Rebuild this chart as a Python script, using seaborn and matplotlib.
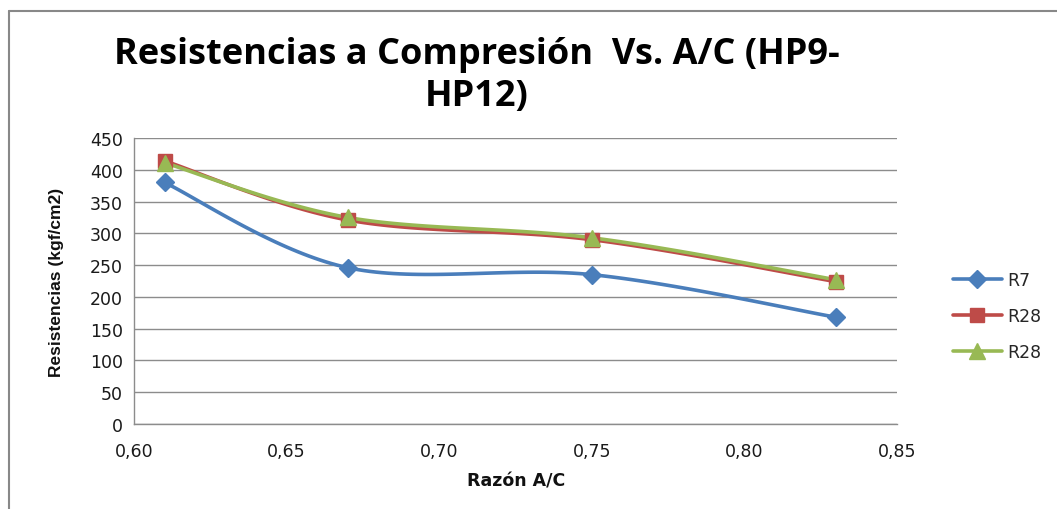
import numpy as np
import pandas as pd
import matplotlib
matplotlib.use("Agg")
import matplotlib.pyplot as plt
from matplotlib.lines import Line2D
import seaborn as sns

# ---- data ----
razon_ac = [0.61, 0.67, 0.75, 0.83]
r7 = [380, 246, 235, 168]
r28_a = [414, 321, 290, 224]
r28_b = [411, 325, 293, 227]
series_names = ["R7", "R28", "R28"]
title_text = "Resistencias a Compresión  Vs. A/C (HP9-\nHP12)"
x_ticks = [0.60, 0.65, 0.70, 0.75, 0.80, 0.85]
y_ticks = [0, 50, 100, 150, 200, 250, 300, 350, 400, 450]

colors = ["#4A7EBB", "#BE4B48", "#98B954"]
markers = ["D", "s", "^"]
msizes = [9, 10, 11]

sns.set_theme(style="white")
plt.rcParams["font.family"] = ["DejaVu Sans"]

fig = plt.figure(figsize=(10.57, 5.10), dpi=100)
ax = fig.add_axes([134 / 1057, 1 - 425 / 510, (897 - 134) / 1057, (425 - 139) / 510])
ax.set_xlim(0.60, 0.85)
ax.set_ylim(0, 450)

# pixel scaling for smooth (Excel-like) curve
sx = 763 / 0.25
sy = 286 / 450


def smooth(xs, ys, n=40):
    P = np.column_stack([np.array(xs) * sx, np.array(ys) * sy])
    out = []
    m = len(P)
    for i in range(m - 1):
        p0 = P[i - 1] if i > 0 else P[i]
        p1 = P[i]
        p2 = P[i + 1]
        p3 = P[i + 2] if i + 2 < m else P[i + 1]
        c1 = p1 + (p2 - p0) / 6
        c2 = p2 - (p3 - p1) / 6
        t = np.linspace(0, 1, n)[:, None]
        seg = ((1 - t) ** 3) * p1 + 3 * ((1 - t) ** 2) * t * c1 + 3 * (1 - t) * t ** 2 * c2 + t ** 3 * p2
        out.append(seg if i == 0 else seg[1:])
    seg = np.vstack(out)
    return seg[:, 0] / sx, seg[:, 1] / sy


handles = []
for vals, name, c, mk, ms in zip([r7, r28_a, r28_b], series_names, colors, markers, msizes):
    xs_s, ys_s = smooth(razon_ac, vals)
    sns.lineplot(x=xs_s, y=ys_s, ax=ax, color=c, lw=2.6, sort=False, estimator=None)
    ax.plot(razon_ac, vals, linestyle="none", marker=mk, markersize=ms, color=c, zorder=5)
    handles.append(Line2D([0], [0], color=c, lw=2.6, marker=mk, markersize=ms, label=name))

ax.set_xticks(x_ticks)
ax.set_xticklabels([f"{v:.2f}".replace(".", ",") for v in x_ticks])
ax.set_yticks(y_ticks)
ax.set_yticklabels([str(v) for v in y_ticks])
ax.tick_params(axis="both", length=0, labelsize=12.5, colors="#1a1a1a")
ax.tick_params(axis="x", pad=13)
ax.tick_params(axis="y", pad=8)

ax.grid(axis="y", color="#8C8C8C", lw=1)
ax.grid(axis="x", visible=False)
for s in ["top", "right"]:
    ax.spines[s].set_visible(False)
for s in ["left", "bottom"]:
    ax.spines[s].set_color("#8C8C8C")
    ax.spines[s].set_linewidth(1)

ax.set_xlabel("Razón A/C", fontsize=12.5, fontweight="bold", color="#111111")
ax.xaxis.set_label_coords((516 - 134) / 763, -(481 - 425) / 286)
ax.xaxis.label.set_va("center")
ax.set_ylabel("Resistencias (kgf/cm2)", fontsize=12.5, fontweight="bold", color="#111111",
              family=["Liberation Sans Narrow", "Liberation Sans"])
ax.yaxis.set_label_coords(-(134 - 57) / 763, (425 - 282) / 286)
ax.yaxis.label.set_va("center")

fig.text(477 / 1057, 1 - 76 / 510, title_text, ha="center", va="center",
         fontsize=26, fontweight="bold", family=["Open Sans", "DejaVu Sans"],
         linespacing=1.2, color="black")

leg = fig.legend(handles=handles, loc="center left", bbox_to_anchor=(953 / 1057, 1 - 317 / 510),
                 frameon=False, fontsize=12.5, handlelength=2.8, labelspacing=1.05,
                 handletextpad=0.3, borderaxespad=0, borderpad=0)

# outer chart frame
fig.add_artist(Line2D([9 / 1057, 9 / 1057], [0, 1 - 12 / 510], color="#888888", lw=1.5,
                      transform=fig.transFigure))
fig.add_artist(Line2D([9 / 1057, 1], [1 - 12 / 510, 1 - 12 / 510], color="#888888", lw=1.5,
                      transform=fig.transFigure))

fig.savefig("out.png", dpi=100)
